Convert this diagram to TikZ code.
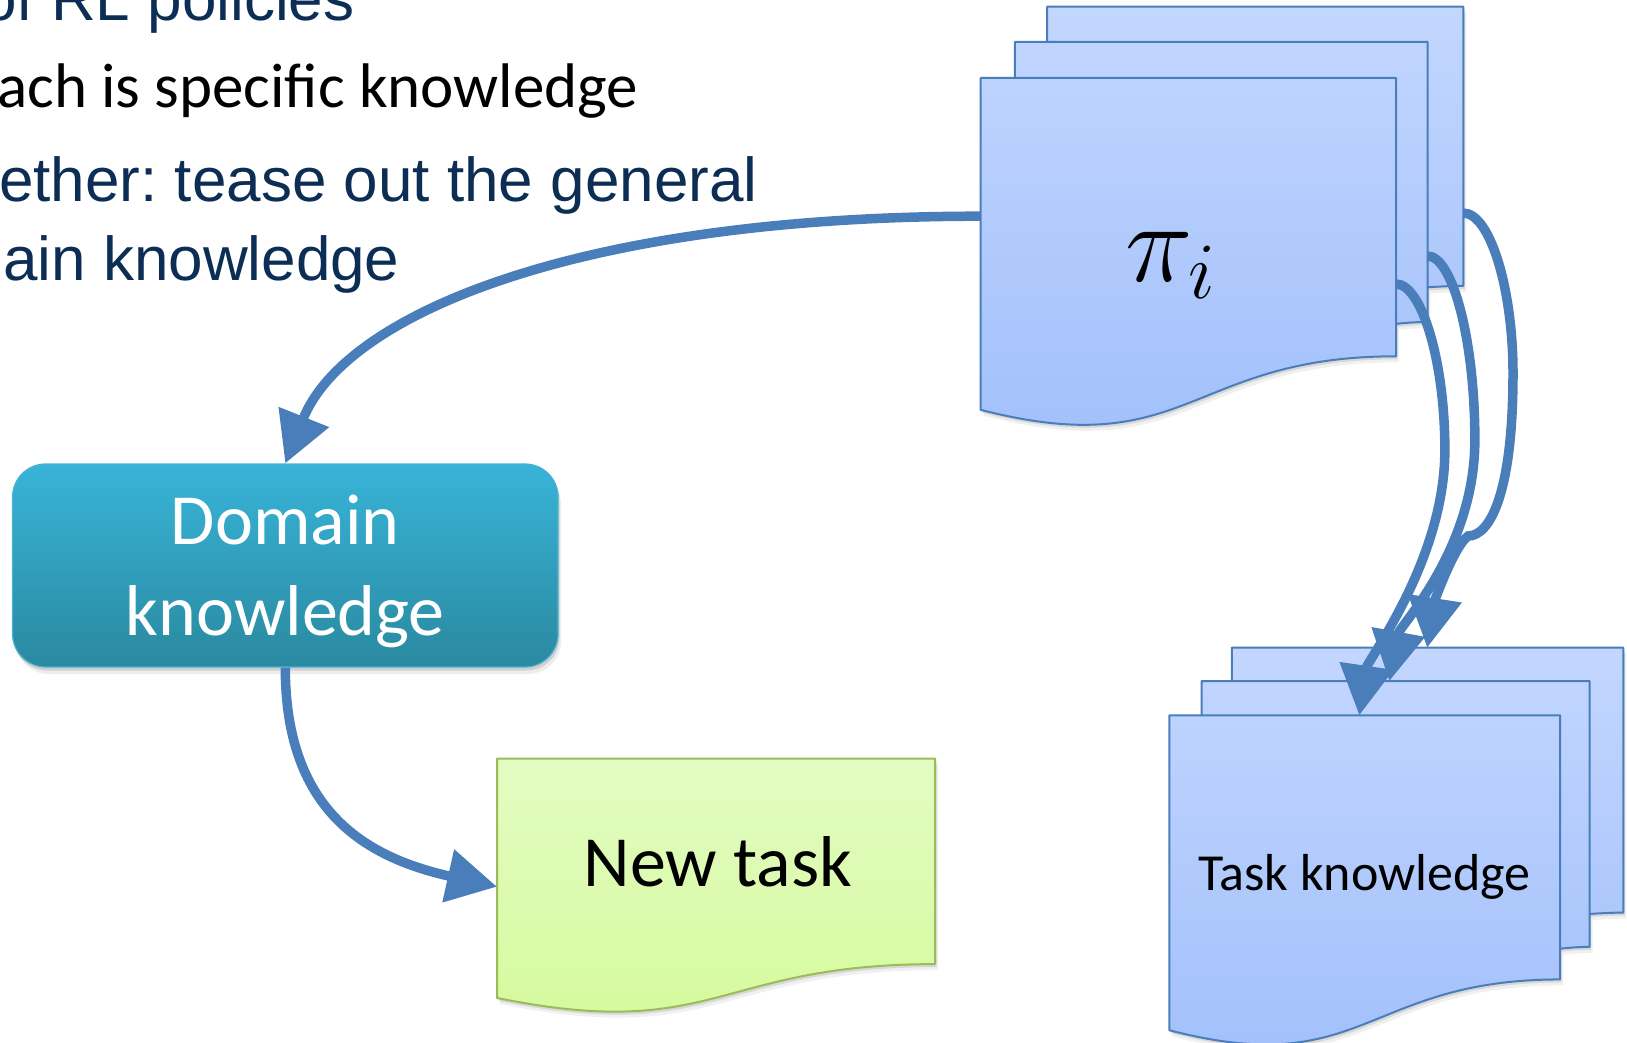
\RequirePackage{fix-cm}
\documentclass[tikz,border=0pt]{standalone}
\usepackage{fontspec}
\setmainfont{Carlito}
\newfontfamily\arialfont{Liberation Sans}
\usetikzlibrary{arrows.meta}
\frenchspacing

\definecolor{flowblue}{HTML}{4A7EBB}
\definecolor{sheettop}{HTML}{C3D6FE}
\definecolor{sheetbottom}{HTML}{A0BFFB}
\definecolor{sheetline}{HTML}{4A7EBB}
\definecolor{leaftop}{HTML}{E3FCC3}
\definecolor{leafbottom}{HTML}{D4FA9A}
\definecolor{leafline}{HTML}{9BBB59}
\definecolor{tealtop}{HTML}{38B4D8}
\definecolor{tealbottom}{HTML}{2A89A0}
\definecolor{tealline}{HTML}{4BB3D0}
\definecolor{bulletnavy}{HTML}{0C2E55}

% stack of three sheets in a unit box (y grows downwards)
\newcommand\multidocpath{%
  (0,0.96213) .. controls (0.43046,1.08991) and (0.43046,0.83435) .. (0.86088,0.83435)
  -- (0.86088,0.17014) -- (0,0.17014) -- cycle
  (0.07093,0.17014) -- (0.07093,0.08403) -- (0.92593,0.08403) -- (0.92593,0.75241)
  .. controls (0.89343,0.75241) and (0.86088,0.75704) .. (0.86088,0.75704)
  -- (0.86088,0.17014) -- cycle
  (0.13759,0.08403) -- (0.13759,0) -- (1,0) -- (1,0.66630)
  .. controls (0.96296,0.66630) and (0.92593,0.66977) .. (0.92593,0.66977)
  -- (0.92593,0.08403) -- cycle}

% single sheet with a wavy lower edge in a unit box
\newcommand\docpath{%
  (0,0) -- (1,0) -- (1,0.80194)
  .. controls (0.5,0.80194) and (0.5,1.10750) .. (0,0.93389) -- cycle}

\tikzset{
  flow/.style={draw=flowblue, line width=9.5pt, -{Triangle[length=50pt,width=52pt]}},
  sheet/.style={top color=sheettop, bottom color=sheetbottom},
  sheetedge/.style={draw=sheetline, line width=2pt, line join=round},
  leaf/.style={top color=leaftop, bottom color=leafbottom},
  leafedge/.style={draw=leafline, line width=2pt, line join=round},
  shadowlayer/.style={fill=black, opacity=#1},
  bullettext/.style={anchor=base west, inner sep=0pt,
    font=\arialfont\fontsize{62}{74}\selectfont, text=bulletnavy},
  plaintext/.style={anchor=base west, inner sep=0pt,
    font=\fontsize{63}{76}\selectfont, text=black},
  tealbox/.style={rounded corners=33pt, top color=tealtop, bottom color=tealbottom,
    draw=tealline, line width=1.2pt, inner sep=0pt,
    preaction={fill=black, opacity=0.07, transform canvas={xshift=3pt, yshift=-7pt}},
    preaction={fill=black, opacity=0.12, transform canvas={xshift=1.5pt, yshift=-3.5pt}}},
  boxtext/.style={anchor=base, inner sep=0pt, text=white,
    font=\fontsize{72}{91}\selectfont},
  sheettext/.style={anchor=base, inner sep=0pt, text=black},
}

% #1 name, (#2,#3) top-left corner, #4 x #5 size
\newcommand\sheetstack[5]{%
  \begin{scope}[shift={(#2,#3)}, x=#4pt, y=-#5pt]
    \fill[shadowlayer=0.06, xshift=3pt, yshift=-6pt] \multidocpath;
    \fill[shadowlayer=0.10, xshift=1.5pt, yshift=-3pt] \multidocpath;
    \shade[sheet] \multidocpath;
    \draw[sheetedge] \multidocpath;
    \coordinate (#1-front-west) at (0,0.5);
    \coordinate (#1-front-east) at (0.86088,0.662);
    \coordinate (#1-mid-east) at (0.92593,0.595);
    \coordinate (#1-back-east) at (1,0.4925);
    \coordinate (#1-front-top) at (0.4185,0.17014);
    \coordinate (#1-mid-top) at (0.4846,0.08403);
    \coordinate (#1-back-top) at (0.568,0);
  \end{scope}}

\begin{document}
\begin{tikzpicture}[x=1pt, y=-1pt]
  \useasboundingbox (0,0) rectangle (1627,1043);

  % bullet text
  \node[bullettext] (line-a) at (-18,21) {of RL policies};
  \node[plaintext]  (line-b) at (-3,108) {ach is specific knowledge};
  \node[bullettext] (line-c) at (-1,202) {ether: tease out the general};
  \node[bullettext] (line-d) at (3,280) {ain knowledge};

  % policy stack and task stack
  \sheetstack{policy}{980.7}{6.7}{482.6}{419}
  \sheetstack{task}{1169.3}{647.7}{454}{397.6}
  \node[sheettext, anchor=base west, font=\fontsize{114}{126}\selectfont]
    (policy-label) at (1125,281) {$\pi_i$};
  \node[sheettext, font=\fontsize{52}{62}\selectfont]
    (task-label) at (1364.5,890.7) {Task knowledge};

  % domain knowledge box
  \node[tealbox, minimum width=545.5pt, minimum height=203pt]
    (domain) at (285.3,565.5) {};
  \node[boxtext] (domain-l1) at (285.3,544) {Domain};
  \node[boxtext] (domain-l2) at (285.3,635) {knowledge};

  % new task sheet
  \begin{scope}[shift={(497,758.5)}, x=438pt, y=-256.4pt]
    \fill[shadowlayer=0.06, xshift=3pt, yshift=-6pt] \docpath;
    \fill[shadowlayer=0.10, xshift=1.5pt, yshift=-3pt] \docpath;
    \shade[leaf] \docpath;
    \draw[leafedge] \docpath;
    \coordinate (newtask-west) at (0,0.5);
  \end{scope}
  \node[sheettext, font=\fontsize{72}{86}\selectfont]
    (newtask-label) at (718,886) {New task};

  % connectors
  \draw[flow] (policy-front-west) .. controls +(-400,0) and +(60,-150) .. (domain.north);
  \draw[flow] (domain.south) .. controls +(0,140) and +(-135,-30) .. (newtask-west);
  \draw[flow] (policy-back-east) .. controls +(27,0) and +(0,-83) .. ++(49.7,160)
    .. controls +(0,120) and +(22,0) .. ++(-45,163)
    .. controls +(-14,10) and +(7,-45) .. (task-back-top);
  \draw[flow] (policy-mid-east) .. controls +(25,0) and +(0,-100) .. ++(47.3,184)
    .. controls +(0,110) and +(10,-55) .. (task-mid-top);
  \draw[flow] (policy-front-east) .. controls +(25,0) and +(0,-90) .. ++(48.7,166)
    .. controls +(0,110) and +(8,-55) .. (task-front-top);
\end{tikzpicture}
\end{document}
